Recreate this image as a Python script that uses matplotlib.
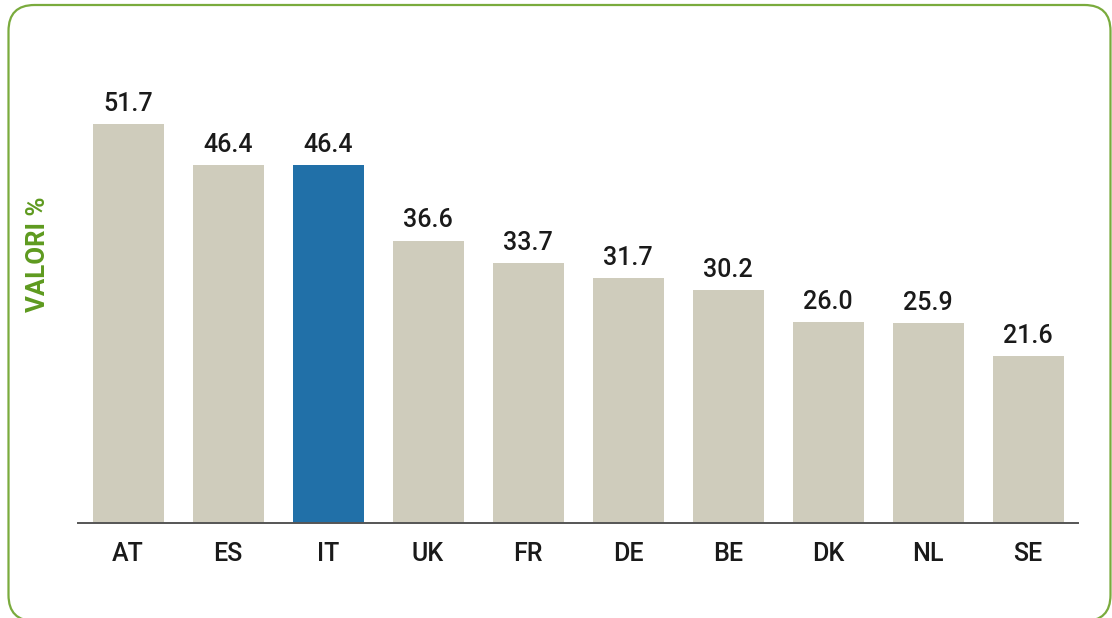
import matplotlib
matplotlib.use("Agg")
import matplotlib.pyplot as plt
from matplotlib.patches import FancyBboxPatch
from matplotlib.transforms import IdentityTransform

countries = ["AT", "ES", "IT", "UK", "FR", "DE", "BE", "DK", "NL", "SE"]
values = [51.7, 46.4, 46.4, 36.6, 33.7, 31.7, 30.2, 26.0, 25.9, 21.6]
highlight = "IT"

plt.rcParams["font.family"] = ["Roboto", "DejaVu Sans"]

W, H = 1112, 618
fig = plt.figure(figsize=(W / 100, H / 100), dpi=100)
fig.patch.set_facecolor("white")

# rounded border in pixel coordinates (bottom edge just below the image)
left, top, right, bottom = 8.5, 5.0, 1110.5, 621.0
border = FancyBboxPatch((left, H - bottom), right - left, bottom - top,
                        boxstyle="round,pad=0,rounding_size=26",
                        transform=IdentityTransform(), fill=False,
                        edgecolor="#7aab3d", linewidth=1.6)
fig.patches.append(border)

ax = fig.add_axes([78 / W, (H - 523) / H, 1000 / W, 463 / H])
colors = ["#2170a8" if c == highlight else "#cfccbc" for c in countries]
x = list(range(len(countries)))
ax.bar(x, values, width=0.71, color=colors)
ax.set_xlim(-0.5, len(countries) - 0.5)
ax.set_ylim(0, 60)

for xi, v in zip(x, values):
    ax.annotate(f"{v:.1f}", (xi, v), xytext=(0, 6), textcoords="offset points",
                ha="center", va="bottom", fontsize=18, fontweight="medium",
                color="#1a1a1a")

ax.set_xticks(x)
ax.set_xticklabels(countries, fontsize=18, fontweight="medium", color="#1a1a1a")
ax.tick_params(axis="x", length=0, pad=14)
ax.set_yticks([])
for s in ["top", "right", "left"]:
    ax.spines[s].set_visible(False)
ax.spines["bottom"].set_color("#555555")
ax.spines["bottom"].set_linewidth(1.4)

fig.text(38 / W, 1 - 254 / H, "VALORI %", rotation=90, ha="center", va="center",
         fontsize=18.5, fontweight="bold", color="#5e9a1f")

fig.savefig("out.png", dpi=100, facecolor="white")
